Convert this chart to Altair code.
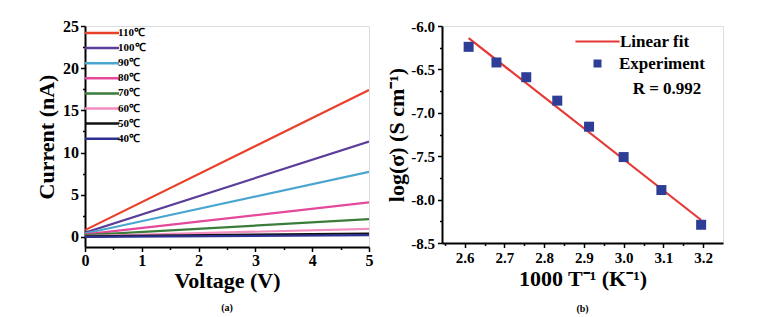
import altair as alt
import pandas as pd

# ---------------- data ----------------
temps = ["110℃", "100℃", "90℃", "80℃", "70℃", "60℃", "50℃", "40℃"]
colors = ["#E8402A", "#5B3E99", "#4BA6CF", "#E5489A", "#3A7D3A", "#F28DC0", "#111111", "#2E3192"]
voltage = [0, 5]
current_at_0V = [0.8, 0.5, 0.4, 0.3, 0.2, 0.1, 0.05, 0.0]
current_at_5V = [17.4, 11.3, 7.7, 4.1, 2.1, 0.95, 0.4, 0.2]

inv_T = [2.61, 2.68, 2.755, 2.833, 2.913, 3.0, 3.095, 3.195]
log_sigma = [-6.24, -6.42, -6.59, -6.86, -7.16, -7.51, -7.89, -8.29]
fit_x = [2.61, 3.195]
fit_y = [-6.14, -8.235]
r_text = "R = 0.992"

FONT = "Liberation Serif"

rows = []
for t, i0, i5 in zip(temps, current_at_0V, current_at_5V):
    rows.append({"T": t, "V": voltage[0], "I": i0})
    rows.append({"T": t, "V": voltage[1], "I": i5})
df_a = pd.DataFrame(rows)

df_pts = pd.DataFrame({"x": inv_T, "y": log_sigma, "s": "Experiment"})
df_fit = pd.DataFrame({"x": fit_x, "y": fit_y, "s": "Linear fit"})

def axis_common(**kw):
    base = dict(
        domainColor="black", domainWidth=2, tickColor="black", tickWidth=1.5,
        labelFont=FONT, labelFontWeight="bold", labelColor="black",
        titleFont=FONT, titleFontWeight="bold", titleColor="black",
        grid=False, labelOverlap=False, labelFlush=False,
    )
    base.update(kw)
    return alt.Axis(**base)

# ---------------- panel (a) ----------------
xa_vals = [i * 0.5 for i in range(0, 11)]
ya_vals = [i * 2.5 for i in range(0, 11)]

line_a = alt.Chart(df_a).mark_line(strokeWidth=2.2, clip=True).encode(
    x=alt.X("V:Q", scale=alt.Scale(domain=[0, 5], nice=False, zero=False),
            axis=axis_common(title="Voltage (V)", values=xa_vals,
                             labelExpr="datum.value % 1 == 0 ? format(datum.value, 'd') : ''",
                             tickSize=alt.condition("datum.value % 1 != 0", alt.value(2.5), alt.value(4.5)),
                             labelFontSize=16, titleFontSize=22, labelPadding=1, titlePadding=2)),
    y=alt.Y("I:Q", scale=alt.Scale(domain=[-1.2, 25], nice=False, zero=False),
            axis=axis_common(title="Current (nA)", values=ya_vals,
                             labelExpr="datum.value % 5 == 0 ? format(datum.value, 'd') : ''",
                             tickSize=alt.condition("datum.value % 5 != 0", alt.value(2.5), alt.value(4.5)),
                             labelFontSize=16, titleFontSize=22, labelPadding=2, titlePadding=4)),
    color=alt.Color("T:N", scale=alt.Scale(domain=temps, range=colors),
                    sort=temps,
                    legend=alt.Legend(title=None, orient="none", legendX=10, legendY=0,
                                      symbolType="M-3.1,0H3.1", symbolSize=121,
                                      symbolStrokeWidth=2.5, labelFont=FONT, labelFontWeight="bold",
                                      labelFontSize=11, labelColor="black", labelOffset=9,
                                      rowPadding=3.1, padding=0)),
    detail="T:N",
).properties(width=284, height=221,
             title=alt.TitleParams("(a)", orient="bottom", font=FONT, fontSize=10,
                                   fontWeight="bold", anchor="middle", offset=11, color="black"))

# ---------------- panel (b) ----------------
xb_vals = [round(2.55 + 0.05 * i, 2) for i in range(0, 14)]
yb_vals = [round(-8.5 + 0.25 * i, 2) for i in range(0, 11)]

xb = alt.X("x:Q", scale=alt.Scale(domain=[2.543, 3.25], nice=False, zero=False),
           axis=axis_common(title="1000 T⁻¹ (K⁻¹)", values=xb_vals,
                            labelExpr="abs(round(datum.value*10) - datum.value*10) < 0.01 ? format(datum.value, '.1f') : ''",
                            tickSize=alt.condition("abs(round(datum.value*10) - datum.value*10) > 0.01", alt.value(2.5), alt.value(4.5)),
                            labelFontSize=15, titleFontSize=22, labelPadding=3, titlePadding=3))
yb = alt.Y("y:Q", scale=alt.Scale(domain=[-8.5, -6.0], nice=False, zero=False),
           axis=axis_common(title="log(σ) (S cm⁻¹)", values=yb_vals,
                            labelExpr="abs(round(datum.value*2) - datum.value*2) < 0.01 ? replace(format(datum.value, '.1f'), '−', '-') : ''",
                            tickSize=alt.condition("abs(round(datum.value*2) - datum.value*2) > 0.01", alt.value(2.5), alt.value(4.5)),
                            labelFontSize=15, titleFontSize=22, labelPadding=3, titlePadding=2))

fit_b = alt.Chart(df_fit).mark_line(strokeWidth=2.2).encode(
    x=xb, y=yb,
    stroke=alt.Stroke("s:N", scale=alt.Scale(domain=["Linear fit"], range=["#E53935"]),
                      legend=alt.Legend(title=None, orient="none", legendX=147, legendY=7,
                                        symbolType="M-3.15,0H3.15", symbolSize=196, symbolStrokeWidth=2,
                                        labelFont=FONT, labelFontWeight="bold", labelFontSize=17,
                                        labelColor="black", labelOffset=14, padding=0)),
)
pts_b = alt.Chart(df_pts).mark_point(shape="square", filled=True, size=100, opacity=1).encode(
    x=xb, y=yb,
    fill=alt.Fill("s:N", scale=alt.Scale(domain=["Experiment"], range=["#2E3D96"]),
                  legend=alt.Legend(title=None, orient="none", legendX=147, legendY=29,
                                    symbolType="square", symbolSize=64, symbolStrokeWidth=0,
                                    labelFont=FONT, labelFontWeight="bold", labelFontSize=17,
                                    labelColor="black", labelOffset=13, padding=0)),
)
r_b = alt.Chart(pd.DataFrame({"t": [r_text]})).mark_text(
    font=FONT, fontWeight="bold", fontSize=17, color="black", align="center", baseline="middle"
).encode(text="t:N", x=alt.value(225), y=alt.value(63))

panel_b = alt.layer(fit_b, pts_b, r_b).resolve_scale(stroke="independent", fill="independent").properties(
    width=281, height=217,
    title=alt.TitleParams("(b)", orient="bottom", font=FONT, fontSize=10,
                          fontWeight="bold", anchor="middle", offset=14, color="black"))

chart = alt.hconcat(line_a, panel_b, spacing=73, bounds="flush").properties(
    padding={"left": 27, "top": 9, "right": 5, "bottom": 2}
).configure_view(stroke="black", strokeWidth=2).configure_axis(
    labelFont=FONT, titleFont=FONT
).configure(background="white", font=FONT)

chart.save("out.html", embed_options={"renderer": "svg", "actions": False})
